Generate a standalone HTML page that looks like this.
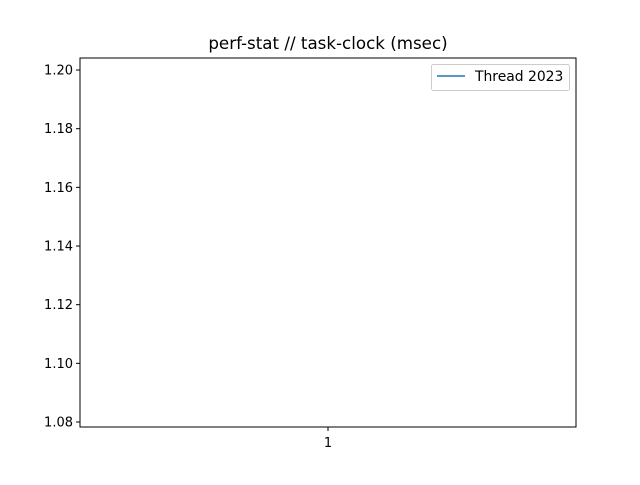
<!DOCTYPE html>
<html><head><meta charset="utf-8"><style>
body{margin:0;background:#fff;font-family:"Liberation Sans","DejaVu Sans",sans-serif;}
</style></head><body>
<svg id="chart" width="640" height="480" xmlns="http://www.w3.org/2000/svg" font-family="DejaVu Sans, Liberation Sans, sans-serif">
<rect width="640" height="480" fill="#fff"/>
<text x="328" y="49" font-size="16.7" text-anchor="middle">perf-stat // task-clock (msec)</text>
<g id="ticks"></g>
<path id="series" fill="none" stroke="#1f77b4" stroke-width="1.5"/>
<rect x="80" y="58" width="496" height="369" fill="none" stroke="#000" stroke-width="1"/>
<g>
<rect x="431.5" y="64.5" width="138" height="26" rx="2" fill="#fff" stroke="#ccc"/>
<line x1="437" y1="76" x2="465" y2="76" stroke="#1f77b4" stroke-width="1.5"/>
<text x="475" y="81" font-size="13.9">Thread 2023</text>
</g>
</svg>
<script>
const categories = [1];
const values = [1.1412];
const yTicks = [1.08, 1.10, 1.12, 1.14, 1.16, 1.18, 1.20];
const yMin = 1.0783, yMax = 1.2041;
const X0 = 80, X1 = 576, Y0 = 427, Y1 = 58;
const ns = "http://www.w3.org/2000/svg";
function yScale(v){ return Y0 - (v - yMin) / (yMax - yMin) * (Y0 - Y1); }
function xScale(i){ return categories.length === 1 ? (X0 + X1) / 2 : X0 + 24.8 + i * (X1 - X0 - 49.6) / (categories.length - 1); }
const g = document.getElementById('ticks');
yTicks.forEach(t => {
  const y = yScale(t);
  const l = document.createElementNS(ns, 'line');
  
  
  l.setAttribute('x1', X0 - 4); l.setAttribute('x2', X0); l.setAttribute('y1', y); l.setAttribute('y2', y);
  l.setAttribute('stroke', '#000');
  g.appendChild(l);
  const tx = document.createElementNS(ns, 'text');
  
  
  tx.setAttribute('x', X0 - 7); tx.setAttribute('y', y + 4.5);
  tx.setAttribute('font-size', '13'); tx.setAttribute('text-anchor', 'end');
  tx.textContent = t.toFixed(2);
  g.appendChild(tx);
});
categories.forEach((c, i) => {
  const x = xScale(i);
  const l = document.createElementNS(ns, 'line');
  
  
  l.setAttribute('x1', x); l.setAttribute('x2', x); l.setAttribute('y1', Y0); l.setAttribute('y2', Y0 + 4);
  l.setAttribute('stroke', '#000');
  g.appendChild(l);
  const tx = document.createElementNS(ns, 'text');
  
  
  tx.setAttribute('x', x); tx.setAttribute('y', Y0 + 20);
  tx.setAttribute('font-size', '13'); tx.setAttribute('text-anchor', 'middle');
  tx.textContent = String(c);
  g.appendChild(tx);
});
document.getElementById('series').setAttribute('d', values.map((v, i) => (i ? 'L' : 'M') + xScale(i) + ' ' + yScale(v)).join(' '));
</script>
</body></html>
